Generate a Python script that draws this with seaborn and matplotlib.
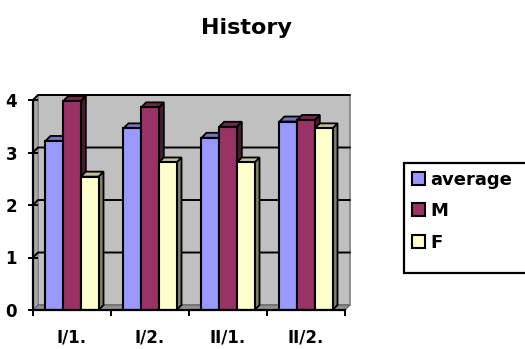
import matplotlib
matplotlib.use("Agg")
import matplotlib.pyplot as plt
from matplotlib.patches import Polygon, Patch, Rectangle
from matplotlib.colors import to_rgb
import seaborn as sns
import pandas as pd

terms = ["I/1.", "I/2.", "II/1.", "II/2."]
groups = ["average", "M", "F"]
average = [3.22, 3.46, 3.28, 3.59]
male = [3.98, 3.86, 3.49, 3.62]
female = [2.54, 2.81, 2.81, 3.46]
colors = {"average": "#9999FF", "M": "#993366", "F": "#FFFFCC"}

df = pd.DataFrame({
    "term": terms * 3,
    "score": average + male + female,
    "group": [g for g in groups for _ in terms],
})

sns.set_theme(style="white")
plt.rcParams["font.family"] = ["DejaVu Sans"]
plt.rcParams["text.color"] = "black"
plt.rcParams["xtick.color"] = "black"
plt.rcParams["ytick.color"] = "black"

W, H = 525, 349
fig = plt.figure(figsize=(W / 100, H / 100), dpi=100)
ax = fig.add_axes([33 / W, 39 / H, 312 / W, 210 / H])
ax.set_facecolor("none")

sns.barplot(data=df, x="term", y="score", hue="group", order=terms,
            hue_order=groups, palette=colors, saturation=1, width=0.68,
            edgecolor="black", linewidth=1.5, legend=False, ax=ax, zorder=3)

bars = sorted([p for p in ax.patches if isinstance(p, Rectangle) and p.get_height() > 0],
              key=lambda p: p.get_x())

ax.set_xlim(-0.5, 3.5)
ax.set_ylim(0, 4)

# depth of the pseudo-3D look, in data units
dx, dy = 0.064, 0.095
wall = "#C0C0C0"

# back wall, left wall and floor
ax.add_patch(Polygon([(-0.5 + dx, dy), (3.5 + dx, dy), (3.5 + dx, 4 + dy), (-0.5 + dx, 4 + dy)],
                     closed=True, facecolor=wall, edgecolor="#808080", lw=1.2,
                     zorder=0.2, clip_on=False))
ax.add_patch(Polygon([(-0.5, 0), (-0.5 + dx, dy), (-0.5 + dx, 4 + dy), (-0.5, 4)],
                     closed=True, facecolor="#A8A8A8", edgecolor="#808080", lw=0.8,
                     zorder=0.3, clip_on=False))
ax.add_patch(Polygon([(-0.5, 0), (3.5, 0), (3.5 + dx, dy), (-0.5 + dx, dy)],
                     closed=True, facecolor="#909090", edgecolor="#606060", lw=0.8,
                     zorder=0.3, clip_on=False))
for v in range(1, 5):
    ax.plot([-0.5, -0.5 + dx, 3.5 + dx], [v, v + dy, v + dy], color="black",
            lw=1.4, zorder=0.5, clip_on=False)


def shade(c, f):
    r, g, b = to_rgb(c)
    return (r * f, g * f, b * f)


for p in bars:
    x0, w, h = p.get_x(), p.get_width(), p.get_height()
    fc = p.get_facecolor()
    side = Polygon([(x0 + w, 0), (x0 + w + dx, dy), (x0 + w + dx, h + dy), (x0 + w, h)],
                   closed=True, facecolor=shade(fc, 0.5), edgecolor="black", lw=1.3,
                   zorder=2.5, clip_on=False)
    top = Polygon([(x0, h), (x0 + w, h), (x0 + w + dx, h + dy), (x0 + dx, h + dy)],
                  closed=True, facecolor=shade(fc, 0.75), edgecolor="black", lw=1.3,
                  zorder=2.5, clip_on=False)
    ax.add_patch(side)
    ax.add_patch(top)

for s in ["top", "right"]:
    ax.spines[s].set_visible(False)
for s in ["left", "bottom"]:
    ax.spines[s].set_color("black")
    ax.spines[s].set_linewidth(1.6)
    ax.spines[s].set_zorder(4)

ax.set_yticks([0, 1, 2, 3, 4])
ax.set_yticklabels(["0", "1", "2", "3", "4"], fontsize=12, fontweight="bold")
ax.tick_params(axis="y", direction="inout", length=7, width=1.4, color="black", pad=8, left=True)
ax.set_xticks(range(4))
ax.set_xticklabels(terms, fontsize=12, fontweight="bold")
ax.set_xticks([-0.5, 0.5, 1.5, 2.5, 3.5], minor=True)
ax.tick_params(axis="x", which="major", length=0, pad=13)
ax.tick_params(axis="x", which="minor", direction="out", length=4, width=1.4,
               color="black", bottom=True)
ax.set_xlabel("")
ax.set_ylabel("")

fig.text(246 / W, 1 - 34 / H, "History", ha="center", va="baseline",
         fontsize=16, fontweight="bold")

# legend frame runs off the right edge of the figure
fig.patches.append(Rectangle((404 / W, 1 - 273 / H), 130 / W, 110 / H,
                             transform=fig.transFigure, facecolor="white",
                             edgecolor="black", lw=1.6, zorder=1))
handles = [Patch(facecolor=colors[g], edgecolor="black", lw=1.5) for g in groups]
leg = fig.legend(handles, groups, loc="upper left",
                 bbox_to_anchor=(408 / W, 1 - 167 / H),
                 prop={"weight": "bold", "size": 13}, frameon=False,
                 handlelength=0.75, handleheight=0.75, handletextpad=0.3,
                 labelspacing=0.75, borderpad=0.2, borderaxespad=0)
leg.set_zorder(2)

fig.savefig("out.png", dpi=100)
